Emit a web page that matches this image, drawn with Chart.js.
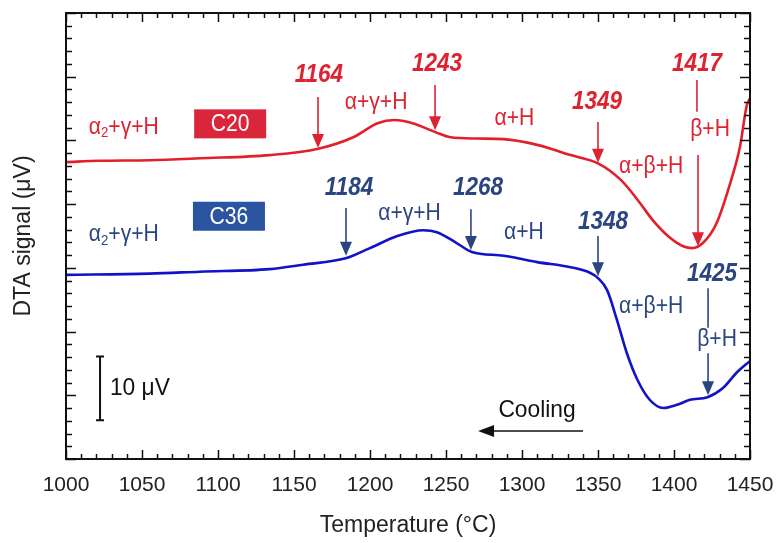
<!DOCTYPE html>
<html><head><meta charset="utf-8">
<script src="https://cdn.jsdelivr.net/npm/chart.js@4"></script>
<style>html,body{margin:0;padding:0;background:#fff}#wrap{width:782px;height:543px}</style>
</head><body><div id="wrap"><canvas id="c" width="782" height="543"></canvas></div>
<script>
// ---- data ----
const seriesNames = ['C20', 'C36'];
const temperatureC20 = [1000, 1022, 1055, 1088, 1134, 1166, 1189, 1205, 1216, 1228, 1243, 1253, 1270, 1288, 1310, 1332, 1350, 1365, 1376, 1386, 1397, 1406, 1412, 1419, 1428, 1437, 1443.4, 1447.8, 1450];
const signalC20      = [46.6, 46.8, 46.9, 47.2, 47.7, 48.7, 50.5, 52.7, 53.2, 52.7, 51.3, 50.5, 50.3, 50.2, 49.3, 47.7, 46.4, 43.8, 40.7, 37.5, 34.8, 33.4, 33.1, 33.9, 37.0, 43.3, 49.0, 55.4, 56.6];
const temperatureC36 = [1000, 1055, 1088, 1134, 1156, 1184, 1200, 1218, 1235, 1244, 1257, 1267, 1288, 1310, 1332, 1345, 1350, 1356, 1362.5, 1369, 1376, 1384, 1393, 1402, 1410.5, 1422, 1432, 1441, 1450];
const signalC36      = [28.9, 29.1, 29.4, 29.8, 30.5, 31.5, 33.1, 35.0, 35.9, 35.6, 33.9, 32.5, 31.9, 30.9, 30.1, 29.2, 28.4, 26.5, 21.8, 16.6, 12.4, 9.3, 8.0, 8.5, 9.3, 9.7, 11.1, 13.5, 15.4];
const xTickLabels = [1000, 1050, 1100, 1150, 1200, 1250, 1300, 1350, 1400, 1450];
const transitionsC20 = [1164, 1243, 1349, 1417];
const transitionsC36 = [1184, 1268, 1348, 1425];
const xTitle = 'Temperature (°C)';
const yTitle = 'DTA signal (μV)';

const FF = "'Liberation Sans Narrow','Liberation Sans',Arial,sans-serif";
const RED = '#DD2230', RED_LINE = '#E2202C', RED_BOX = '#D9263A';
const NAVY = '#2A4580', BLUE_LINE = '#1212C8', NAVY_BOX = '#2B55A0';

// annotation layout (data coordinates: temperature, µV)
const labelsPhase = [
  {t:'a2', x:1038, y:52.1, c:RED},
  {t:'α+γ+H', x:1204, y:56.0, c:RED},
  {t:'α+H', x:1295, y:53.5, c:RED},
  {t:'α+β+H', x:1385, y:46.0, c:RED},
  {t:'β+H', x:1423.7, y:51.8, c:RED},
  {t:'a2', x:1038, y:35.2, c:NAVY},
  {t:'α+γ+H', x:1226, y:38.6, c:NAVY},
  {t:'α+H', x:1301.3, y:35.5, c:NAVY},
  {t:'α+β+H', x:1385, y:24.0, c:NAVY},
  {t:'β+H', x:1428.3, y:18.7, c:NAVY}
];
const numberLabels = [
  {v:transitionsC20[0], x:1166.4, y:60.3, c:RED},
  {v:transitionsC20[1], x:1244.1, y:62.0, c:RED},
  {v:transitionsC20[2], x:1349.3, y:56.0, c:RED},
  {v:transitionsC20[3], x:1415.1, y:62.0, c:RED},
  {v:transitionsC36[0], x:1186.2, y:42.5, c:NAVY},
  {v:transitionsC36[1], x:1271.1, y:42.5, c:NAVY},
  {v:transitionsC36[2], x:1353.3, y:37.2, c:NAVY},
  {v:transitionsC36[3], x:1425.0, y:29.0, c:NAVY}
];
const arrows = [
  {x:1165.8, y1:56.8, y2:48.8, c:RED},
  {x:1242.8, y1:58.7, y2:51.6, c:RED},
  {x:1350.0, y1:52.9, y2:46.5, c:RED},
  {x:1415.8, y1:47.7, y2:33.4, c:RED},
  {x:1184.2, y1:39.4, y2:31.9, c:NAVY},
  {x:1266.4, y1:39.2, y2:32.8, c:NAVY},
  {x:1350.0, y1:35.0, y2:28.7, c:NAVY},
  {x:1422.4, y1:16.6, y2:10.0, c:NAVY}
];
const connectors = [
  {x:1415.1, y1:59.5, y2:54.5, c:RED},
  {x:1422.4, y1:26.8, y2:20.6, c:NAVY}
];
const boxes = [
  {t:seriesNames[0], x:1108, y:52.6, c:RED_BOX},
  {t:seriesNames[1], x:1107.2, y:38.1, c:NAVY_BOX}
];

// condensed text helper (mimics the narrow typeface of the original)
function ntext(ctx, str, x, y, font, color, align, sx) {
  sx = sx || 0.88;
  ctx.save();
  ctx.font = font; ctx.fillStyle = color; ctx.textBaseline = 'middle'; ctx.textAlign = 'left';
  const w = ctx.measureText(str).width * sx;
  const x0 = align === 'center' ? x - w / 2 : (align === 'right' ? x - w : x);
  ctx.translate(x0, y); ctx.scale(sx, 1);
  ctx.fillText(str, 0, 0);
  ctx.restore();
  return w;
}

const deco = {
  id:'deco',
  afterDatasetsDraw(chart){
    const {ctx, chartArea:a, scales:{x, y}} = chart;
    const X = v => x.getPixelForValue(v), Y = v => y.getPixelForValue(v);
    ctx.save();
    ctx.strokeStyle = '#111'; ctx.lineWidth = 2;
    ctx.strokeRect(a.left, a.top, a.right - a.left, a.bottom - a.top);
    ctx.lineWidth = 1.5;
    ctx.beginPath();
    for (let t = 1000; t <= 1450; t += 10) {
      const L = (t % 50 === 0) ? 9 : 5, px = Math.round(X(t)) + 0.5;
      ctx.moveTo(px, a.bottom); ctx.lineTo(px, a.bottom - L);
      ctx.moveTo(px, a.top); ctx.lineTo(px, a.top + L);
    }
    for (let v = 0; v <= 70; v += 2) {
      const L = (v % 10 === 0) ? 10 : 6, py = Math.round(Y(v)) + 0.5;
      ctx.moveTo(a.left, py); ctx.lineTo(a.left + L, py);
      ctx.moveTo(a.right, py); ctx.lineTo(a.right - L, py);
    }
    ctx.stroke();

    const fR = "24px " + FF, fS = "15px " + FF;
    for (const l of labelsPhase) {
      const cx = X(l.x), cy = Y(l.y);
      if (l.t === 'a2') {
        ctx.font = fR; const w1 = ctx.measureText('α').width * 0.88, w3 = ctx.measureText('+γ+H').width * 0.88;
        ctx.font = fS; const w2 = ctx.measureText('2').width * 0.88;
        const sx = cx - (w1 + w2 + w3) / 2;
        ntext(ctx, 'α', sx, cy, fR, l.c, 'left');
        ntext(ctx, '2', sx + w1, cy + 6, fS, l.c, 'left');
        ntext(ctx, '+γ+H', sx + w1 + w2, cy, fR, l.c, 'left');
      } else {
        ntext(ctx, l.t, cx, cy, fR, l.c, 'center');
      }
    }
    for (const n of numberLabels) ntext(ctx, String(n.v), X(n.x), Y(n.y), "italic bold 25px " + FF, n.c, 'center', 0.9);
    ctx.lineWidth = 1.6;
    for (const t of connectors) {
      ctx.strokeStyle = t.c; ctx.beginPath();
      ctx.moveTo(X(t.x), Y(t.y1)); ctx.lineTo(X(t.x), Y(t.y2)); ctx.stroke();
    }
    for (const ar of arrows) {
      const px = X(ar.x), p1 = Y(ar.y1), p2 = Y(ar.y2);
      ctx.strokeStyle = ar.c; ctx.fillStyle = ar.c; ctx.lineWidth = 1.6;
      ctx.beginPath(); ctx.moveTo(px, p1); ctx.lineTo(px, p2 - 12); ctx.stroke();
      ctx.beginPath(); ctx.moveTo(px - 6, p2 - 14); ctx.lineTo(px + 6, p2 - 14); ctx.lineTo(px, p2); ctx.closePath(); ctx.fill();
    }
    for (const b of boxes) {
      const cx = X(b.x), cy = Y(b.y);
      ctx.fillStyle = b.c; ctx.fillRect(cx - 36, cy - 14.5, 72, 29);
      ntext(ctx, b.t, cx, cy + 1, fR, '#fff', 'center');
    }
    ctx.strokeStyle = '#111'; ctx.lineWidth = 2;
    const bx = X(1022.4), b1 = Y(6.1), b2 = Y(16.1);
    ctx.beginPath();
    ctx.moveTo(bx, b1); ctx.lineTo(bx, b2);
    ctx.moveTo(bx - 4, b1); ctx.lineTo(bx + 4, b1);
    ctx.moveTo(bx - 4, b2); ctx.lineTo(bx + 4, b2);
    ctx.stroke();
    ntext(ctx, '10 μV', X(1028.9), Y(11.1), fR, '#111', 'left', 0.95);
    ntext(ctx, 'Cooling', X(1309.9), Y(7.7), fR, '#111', 'center', 0.95);
    const ay = Y(4.4), ax1 = X(1340.1), ax2 = X(1271.1);
    ctx.fillStyle = '#111'; ctx.lineWidth = 1.6;
    ctx.beginPath(); ctx.moveTo(ax1, ay); ctx.lineTo(ax2 + 12, ay); ctx.stroke();
    ctx.beginPath(); ctx.moveTo(ax2, ay); ctx.lineTo(ax2 + 16, ay - 6); ctx.lineTo(ax2 + 16, ay + 6); ctx.closePath(); ctx.fill();
    ctx.restore();
  }
};

new Chart(document.getElementById('c'), {
  type: 'line',
  data: {
    datasets: [
      {label: seriesNames[0], data: temperatureC20.map((t, i) => ({x: t, y: signalC20[i]})), borderColor: RED_LINE, borderWidth: 2.6, pointRadius: 0, cubicInterpolationMode: 'monotone', fill: false},
      {label: seriesNames[1], data: temperatureC36.map((t, i) => ({x: t, y: signalC36[i]})), borderColor: BLUE_LINE, borderWidth: 2.6, pointRadius: 0, cubicInterpolationMode: 'monotone', fill: false}
    ]
  },
  options: {
    responsive: false, animation: false, devicePixelRatio: 1,
    layout: {padding: {left: 0, top: 13, right: 32, bottom: 0}},
    plugins: {legend: {display: false}, tooltip: {enabled: false}},
    scales: {
      x: {
        type: 'linear', min: 1000, max: 1450,
        afterBuildTicks: s => { s.ticks = xTickLabels.map(v => ({value: v})); },
        afterFit: s => { s.height = 84; s.paddingLeft = 0; s.paddingRight = 0; },
        grid: {display: false, drawTicks: false}, border: {display: false},
        ticks: {color: '#222', font: {family: FF, size: 21}, padding: 14, maxRotation: 0, autoSkip: false, callback: v => String(v)},
        title: {display: true, text: xTitle, color: '#222', font: {family: FF, size: 23}, padding: {top: 0, bottom: 4}}
      },
      y: {
        type: 'linear', min: 0, max: 70,
        afterFit: s => { s.width = 66; s.paddingTop = 0; s.paddingBottom = 0; },
        grid: {display: false, drawTicks: false}, border: {display: false},
        ticks: {display: false},
        title: {display: true, text: yTitle, color: '#222', font: {family: FF, size: 23}, padding: {top: 10, bottom: 0}}
      }
    }
  },
  plugins: [deco]
});
</script>
</body></html>
